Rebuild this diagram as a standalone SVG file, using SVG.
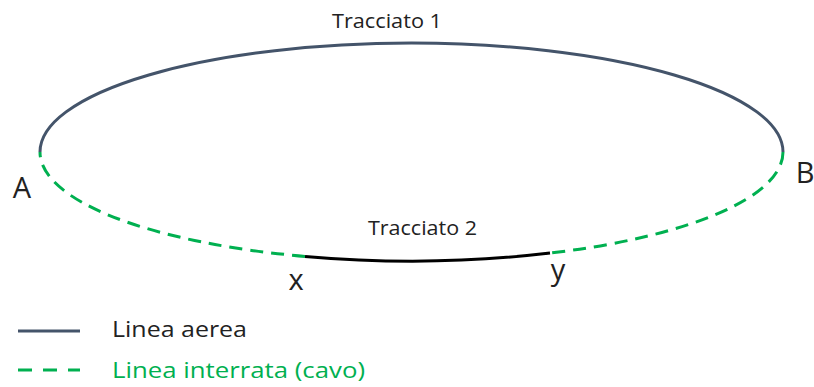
<svg xmlns="http://www.w3.org/2000/svg" width="814" height="387" viewBox="0 0 814 387">
<style>
.aerea{fill:none;stroke:#44546A;stroke-width:3}
.cavo{fill:none;stroke:#00B050;stroke-width:3;stroke-dasharray:13 8}
.nero{fill:none;stroke:#000;stroke-width:3}
text{font-family:"Open Sans","Liberation Sans",sans-serif;fill:#222}
.lbl{font-size:20px}
.pt{font-size:29px}
.leg{font-size:22px}
</style>
<rect width="814" height="387" fill="#fff"/>
<g id="connectors">
<path id="tracciato1" class="aerea" d="M 40 152 A 371.5 109 0 0 1 783 152"/>
<path id="cavoB" class="cavo" d="M 783 152 A 371.5 109 0 0 1 550 253.1"/>
<path id="cavoA" class="cavo" d="M 305 256.4 A 371.5 109 0 0 1 40 152"/>
<path id="tracciato2" class="nero" d="M 305 256.4 A 371.5 109 0 0 0 550 253.1"/>
</g>
<g id="labels">
<text class="lbl" x="332" y="28" textLength="110" lengthAdjust="spacingAndGlyphs">Tracciato 1</text>
<text class="lbl" x="368" y="235" textLength="109" lengthAdjust="spacingAndGlyphs">Tracciato 2</text>
</g>
<g id="nodeA"><text class="pt" x="22" y="198" text-anchor="middle">A</text></g>
<g id="nodeB"><text class="pt" x="805" y="183" text-anchor="middle">B</text></g>
<g id="nodeX"><text class="pt" x="296" y="290" text-anchor="middle">x</text></g>
<g id="nodeY"><text class="pt" x="558" y="280" text-anchor="middle">y</text></g>
<g id="legend">
<line class="aerea" x1="18" y1="331" x2="80" y2="331"/>
<text class="leg" x="112" y="337" textLength="135" lengthAdjust="spacingAndGlyphs">Linea aerea</text>
<line class="cavo" x1="18" y1="370" x2="80" y2="370" style="stroke-dasharray:14 11"/>
<text class="leg" x="112" y="378" textLength="253" lengthAdjust="spacingAndGlyphs" style="fill:#00B050">Linea interrata (cavo)</text>
</g>
</svg>
